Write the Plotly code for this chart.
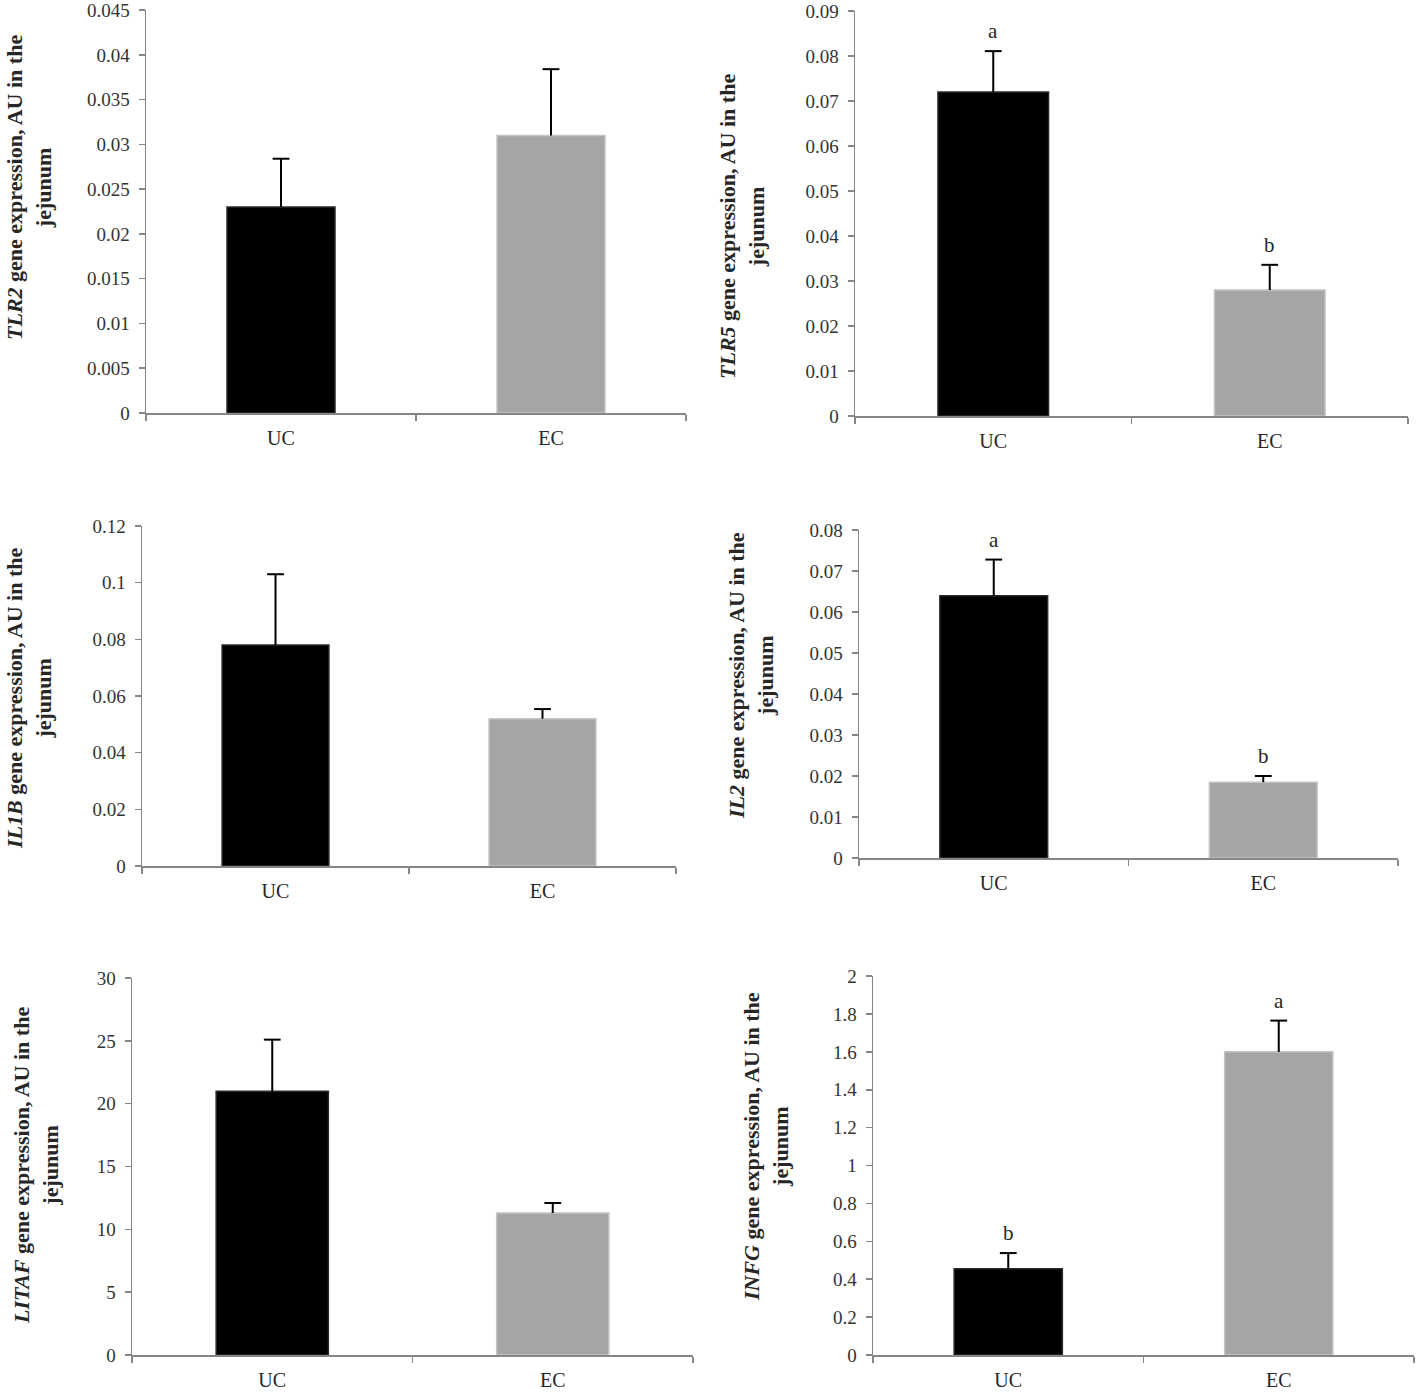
import plotly.graph_objects as go

# ---------------- data ----------------
groups = ["UC", "EC"]
genes = ["TLR2", "TLR5", "IL1B", "IL2", "LITAF", "INFG"]
uc_mean = [0.023, 0.072, 0.078, 0.064, 21.0, 0.455]
ec_mean = [0.031, 0.028, 0.052, 0.0185, 11.3, 1.60]
uc_se = [0.0054, 0.0091, 0.025, 0.0088, 4.1, 0.083]
ec_se = [0.0074, 0.0056, 0.0034, 0.0015, 0.8, 0.165]
uc_letter = ["", "a", "", "a", "", "b"]
ec_letter = ["", "b", "", "b", "", "a"]
y_max = [0.045, 0.09, 0.12, 0.08, 30, 2]
ytick_labels = [
    ["0", "0.005", "0.01", "0.015", "0.02", "0.025", "0.03", "0.035", "0.04", "0.045"],
    ["0", "0.01", "0.02", "0.03", "0.04", "0.05", "0.06", "0.07", "0.08", "0.09"],
    ["0", "0.02", "0.04", "0.06", "0.08", "0.1", "0.12"],
    ["0", "0.01", "0.02", "0.03", "0.04", "0.05", "0.06", "0.07", "0.08"],
    ["0", "5", "10", "15", "20", "25", "30"],
    ["0", "0.2", "0.4", "0.6", "0.8", "1", "1.2", "1.4", "1.6", "1.8", "2"],
]

# ---------------- layout geometry (pixels) ----------------
W, H = 1418, 1392
boxes = [  # x0, x1, ytop, ybottom
    (146, 686, 10, 413),
    (855, 1408, 11, 416),
    (142, 676, 526, 866),
    (859, 1398, 530, 858),
    (132, 693, 978, 1355),
    (873, 1414, 976, 1355),
]
title_pos = [(29, 188), (742, 227), (29, 698), (751, 675), (36, 1166), (766, 1147)]

FONT = "Liberation Serif, Times New Roman, serif"
AXIS_COL = "#868686"
TXT_COL = "#262626"
colors = ["#000000", "#a5a5a5"]
edge = ["#2a2a2a", "#c4c4c4"]

fig = go.Figure()
layout = dict(
    template="none",
    width=W, height=H, margin=dict(l=0, r=0, t=0, b=0, pad=0, autoexpand=False),
    paper_bgcolor="white", plot_bgcolor="white",
    showlegend=False, bargap=0.6,
    font=dict(family=FONT, color=TXT_COL),
)
annotations = []

for i in range(6):
    n = "" if i == 0 else str(i + 1)
    xa, ya = "x" + n, "y" + n
    means = [uc_mean[i], ec_mean[i]]
    ses = [uc_se[i], ec_se[i]]
    fig.add_trace(go.Bar(
        x=groups, y=means, xaxis=xa, yaxis=ya,
        marker=dict(color=colors, line=dict(color=edge, width=1.5)),
        hoverinfo="skip",
    ))
    # upper-only error bars: stem + cap
    ex, ey = [], []
    for g, m, s in zip(groups, means, ses):
        ex += [g, g, None]
        ey += [m, m + s, None]
    fig.add_trace(go.Scatter(
        x=ex, y=ey, xaxis=xa, yaxis=ya, mode="lines",
        line=dict(color="black", width=2), hoverinfo="skip",
    ))
    fig.add_trace(go.Scatter(
        x=groups, y=[m + s for m, s in zip(means, ses)], xaxis=xa, yaxis=ya,
        mode="markers",
        marker=dict(symbol="line-ew", size=12, line=dict(color="black", width=2)),
        hoverinfo="skip",
    ))
    x0, x1, yt, yb = boxes[i]
    labels = ytick_labels[i]
    vals = [float(v) for v in labels]
    layout["xaxis" + n] = dict(
        domain=[x0 / W, x1 / W], anchor=ya, range=[-0.5, 1.5], automargin=False,
        showline=True, linecolor=AXIS_COL, linewidth=1.5,
        ticks="outside", tickson="boundaries", ticklen=6, tickcolor=AXIS_COL, tickwidth=1.5,
        tickfont=dict(family=FONT, size=20, color=TXT_COL), ticklabelstandoff=6,
        ticklabeloverflow="allow",
        showgrid=False, zeroline=False, fixedrange=True,
    )
    layout["yaxis" + n] = dict(
        domain=[1 - yb / H, 1 - yt / H], anchor=xa,
        range=[0, y_max[i] * 1.0002], automargin=False,
        showline=True, linecolor=AXIS_COL, linewidth=1.5,
        ticks="outside", ticklen=6, tickcolor=AXIS_COL, tickwidth=1.5,
        tickvals=vals, ticktext=labels,
        tickfont=dict(family=FONT, size=19, color="#333333"), ticklabelstandoff=5,
        ticklabeloverflow="allow",
        showgrid=False, zeroline=False, fixedrange=True,
    )
    for g, letter, m, s in zip(groups, [uc_letter[i], ec_letter[i]], means, ses):
        if letter:
            annotations.append(dict(
                x=g, y=m + s, xref=xa, yref=ya, text=letter, showarrow=False,
                yanchor="middle", yshift=20,
                font=dict(family=FONT, size=21, color=TXT_COL),
            ))
    tx, ty = title_pos[i]
    annotations.append(dict(
        x=tx / W, y=1 - ty / H, xref="paper", yref="paper",
        text="<b><i>" + genes[i] + "</i> gene expression, AU in the<br>jejunum</b>",
        textangle=-90, showarrow=False, xanchor="center", yanchor="middle",
        font=dict(family=FONT, size=22, color=TXT_COL),
    ))

layout["annotations"] = annotations
fig.update_layout(**layout)
fig.write_html(
    "out.html",
    config={"displayModeBar": False, "staticPlot": True},
    post_script="document.body.style.margin='0';document.body.style.overflow='hidden';",
)
